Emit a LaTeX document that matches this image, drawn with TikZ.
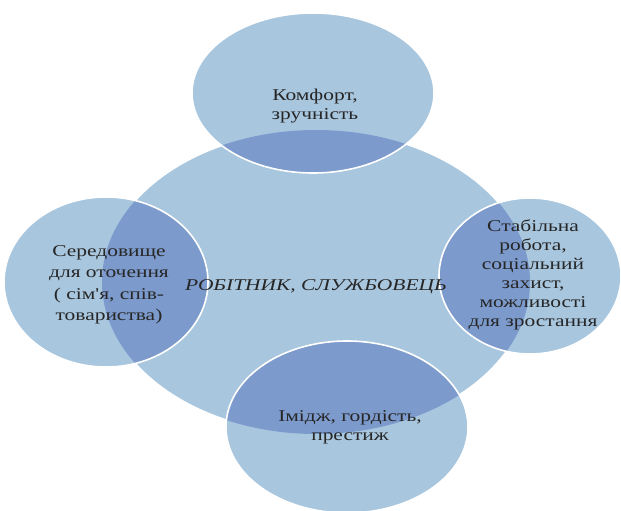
\documentclass[tikz,border=0pt]{standalone}
\usepackage{fontspec}
\setmainfont{Liberation Serif}
\newfontfamily\tnr[FakeStretch=1.3]{Liberation Serif}
\definecolor{lightb}{RGB}{168,198,222}
\definecolor{darkb}{RGB}{124,154,204}
\begin{document}
\begin{tikzpicture}[x=1pt,y=-1pt,
  lbl/.style={font=\tnr\fontsize{16.5}{19}\selectfont, align=center, inner sep=0pt, text=black!85},
  outl/.style={draw=white, line width=1.6pt}]
\useasboundingbox (0,0) rectangle (621,511);
% central ellipse
\def\central{(316,282) ellipse [x radius=214, y radius=152]}
\fill[lightb] \central;
\draw[outl] \central;
% satellites
\foreach \cx/\cy/\rx/\ry in {313/93/121/80, 106/282/102/85, 530/276/91/78, 347/427/121/86}{
  \fill[lightb] (\cx,\cy) ellipse [x radius=\rx, y radius=\ry];
  \begin{scope}
    \clip \central;
    \fill[darkb] (\cx,\cy) ellipse [x radius=\rx, y radius=\ry];
  \end{scope}
  \draw[outl] (\cx,\cy) ellipse [x radius=\rx, y radius=\ry];
}
\node[lbl] (top) at (315,106) {Комфорт,\\зручність};
\node[lbl, font=\tnr\fontsize{16.5}{21.5}\selectfont] (left) at (109,285) {Середовище\\для оточення\\( сім'я, спів-\\товариства)};
\node[lbl] (right) at (533,275) {Стабільна\\робота,\\соціальний\\захист,\\можливості\\для зростання};
\node[lbl] (bottom) at (350,427) {Імідж, гордість,\\престиж};
\node[lbl, font=\tnr\itshape\fontsize{16.5}{19}\selectfont] (center) at (316,287) {РОБІТНИК, СЛУЖБОВЕЦЬ};
\end{tikzpicture}
\end{document}
